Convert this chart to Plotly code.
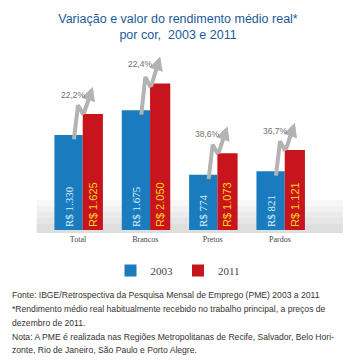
import plotly.graph_objects as go

categories = ["Total", "Brancos", "Pretos", "Pardos"]
values_2003 = [1330, 1675, 774, 821]
values_2011 = [1625, 2050, 1073, 1121]
variation = ["22,2%", "22,4%", "38,6%", "36,7%"]
series_names = ["2003", "2011"]
footnote_lines = [
    "Fonte: IBGE/Retrospectiva da Pesquisa Mensal de Emprego (PME) 2003 a 2011",
    "*Rendimento médio real habitualmente recebido no trabalho principal, a preços de",
    "dezembro de 2011.",
    "Nota: A PME é realizada nas Regiões Metropolitanas de Recife, Salvador, Belo Hori-",
    "zonte, Rio de Janeiro, São Paulo e Porto Alegre.",
]

def brl(v):
    return "R$ " + f"{v:,}".replace(",", ".")

H, T, B = 361, 60, 131
PH = H - T - B
def py(p):  # pixel row -> paper y
    return (H - B - p) / PH

x = list(range(len(categories)))
fig = go.Figure()

# floor gradient band
greys = ["#f7f7f7", "#f1f1f1", "#ebebeb", "#e5e5e5", "#dedede"]
for k, g in enumerate(greys):
    fig.add_shape(type="rect", xref="paper", yref="paper", x0=0.08, x1=0.99,
                  y0=py(233), y1=py(200 + k * 6), fillcolor=g, line_width=0, layer="below")

fig.add_trace(go.Bar(
    x=x, y=values_2003, name=series_names[0], width=0.42, offset=-0.35,
    marker=dict(color="#1a7cbf", line=dict(width=0)),
    text=[brl(v) for v in values_2003], textposition="inside", textangle=-90,
    insidetextanchor="start",
    textfont=dict(family="Liberation Serif, DejaVu Serif", size=11, color="#d9f2ff"),
))
fig.add_trace(go.Bar(
    x=x, y=values_2011, name=series_names[1], width=0.30, offset=0.07,
    marker=dict(color="#c8141c", line=dict(width=0)),
    text=[brl(v) for v in values_2011], textposition="inside", textangle=-90,
    insidetextanchor="start",
    textfont=dict(family="Liberation Sans", size=11, color="#ffd21a"),
))

# zigzag arrows built from the data
for i, (vb, vr, lab) in enumerate(zip(values_2003, values_2011, variation)):
    top = vr + 380
    p0 = (i - 0.06, vb - 60)
    p1 = (i + 0.0, vb + 0.62 * (top - vb))
    p2 = (i + 0.08, vb + 0.42 * (top - vb))
    p3 = (i + 0.22, top)
    fig.add_trace(go.Scatter(x=[p0[0], p1[0], p2[0]], y=[p0[1], p1[1], p2[1]],
                             mode="lines", line=dict(color="#b3b3b3", width=4),
                             showlegend=False, hoverinfo="skip"))
    fig.add_annotation(x=p3[0], y=p3[1], ax=p2[0], ay=p2[1], xref="x", yref="y",
                       axref="x", ayref="y", showarrow=True, arrowhead=2,
                       arrowsize=0.7, arrowwidth=4, arrowcolor="#b3b3b3", text="")
    fig.add_annotation(x=i - 0.07, y=top - 110, xref="x", yref="y", text=lab,
                       showarrow=False, xanchor="center", yanchor="middle",
                       font=dict(family="Liberation Sans, Arial", size=8.5, color="#6f6f6f"))

for line, p in zip(footnote_lines, [295, 309, 323, 337, 350]):
    fig.add_annotation(x=0.0, y=py(p), xref="paper", yref="paper", text=line,
                       showarrow=False, xanchor="left", yanchor="middle", align="left",
                       font=dict(family="Liberation Sans", size=8.6, color="#333333"))

fig.update_layout(
    width=356, height=H,
    margin=dict(l=10, r=10, t=T, b=B),
    paper_bgcolor="white", plot_bgcolor="white",
    title=dict(text="Variação e valor do rendimento médio real*<br>por cor,  2003 e 2011",
               x=0.5, xanchor="center", y=0.937, yanchor="middle",
               font=dict(family="Liberation Sans", size=12.5, color="#1d5a9c")),
    barmode="overlay",
    showlegend=True,
    legend=dict(orientation="h", x=0.5, xanchor="center", y=py(256), yanchor="top",
                font=dict(family="Liberation Serif, DejaVu Serif", size=11, color="#444"),
                itemwidth=30, bgcolor="rgba(0,0,0,0)"),
    xaxis=dict(range=[-1.01, 3.98], tickvals=x, ticktext=categories, showgrid=False,
               zeroline=False, showline=False, ticks="", ticklabelstandoff=3,
               tickfont=dict(family="Liberation Serif, DejaVu Serif", size=8, color="#444")),
    yaxis=dict(range=[0, 2380], visible=False, showgrid=False),
)

fig.write_html("out.html", config={"displayModeBar": False},
               post_script="document.body.style.margin='0px';")
